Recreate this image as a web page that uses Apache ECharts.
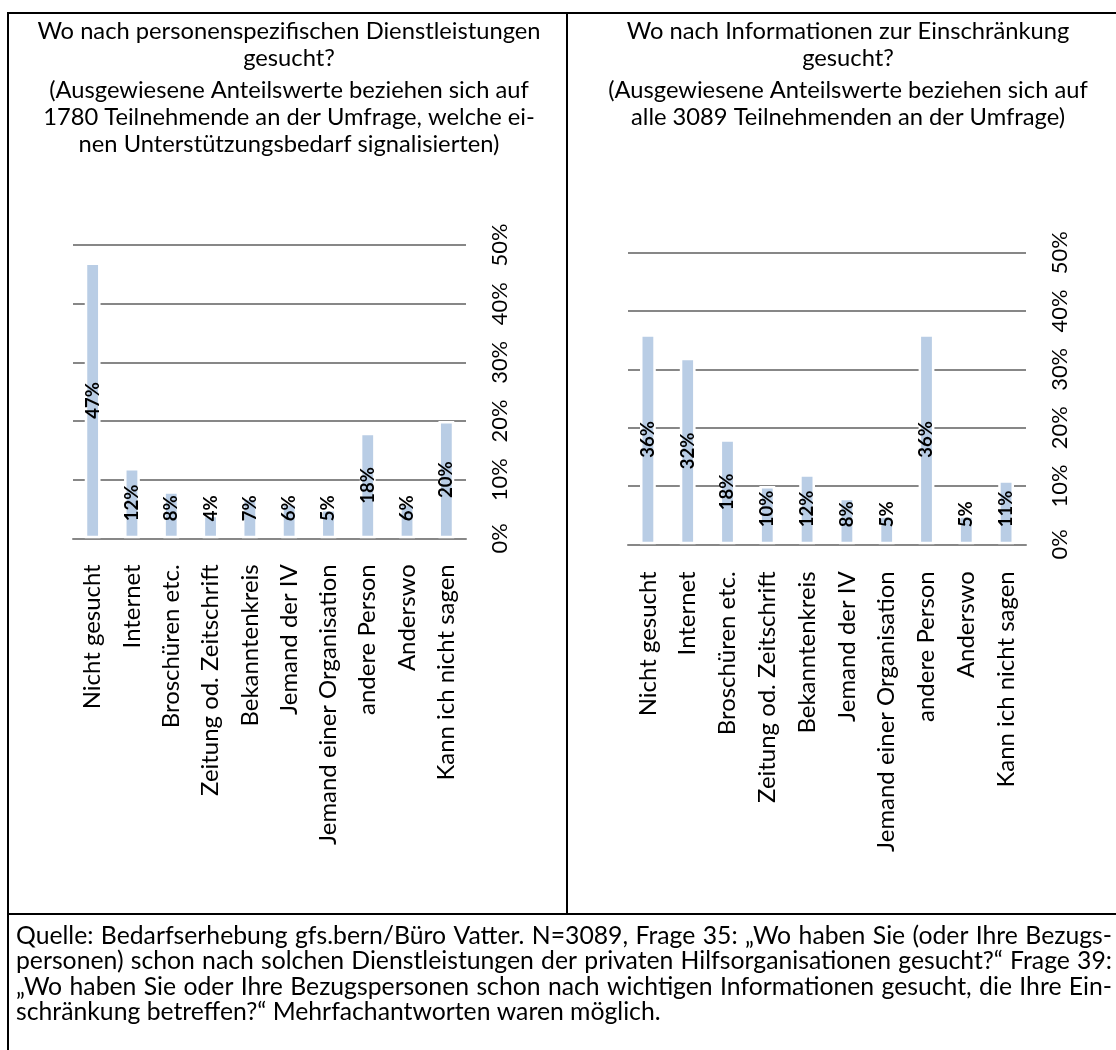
<!DOCTYPE html>
<html>
<head>
<meta charset="utf-8">
<script src="https://cdn.jsdelivr.net/npm/echarts@6/dist/echarts.min.js"></script>
<style>
  html, body { margin: 0; padding: 0; background: #fff; }
  #chart { width: 1116px; height: 1050px; }
</style>
</head>
<body>
<div id="chart"></div>
<script>
// Answer categories shared by both panels
const categories = [
  'Nicht gesucht', 'Internet', 'Broschüren etc.', 'Zeitung od. Zeitschrift',
  'Bekanntenkreis', 'Jemand der IV', 'Jemand einer Organisation',
  'andere Person', 'Anderswo', 'Kann ich nicht sagen'
];
// Shares in percent (Frage 35: Dienstleistungen, Frage 39: Informationen)
const dienstleistungenShare = [47, 12, 8, 4, 7, 6, 5, 18, 6, 20];
const informationenShare = [36, 32, 18, 10, 12, 8, 5, 36, 5, 11];
// Value axis ticks (percent)
const percentTicks = [0, 10, 20, 30, 40, 50];

const titleLeft = ['Wo nach personenspezifischen Dienstleistungen', 'gesucht?'];
const subtitleLeft = [
  '(Ausgewiesene Anteilswerte beziehen sich auf',
  '1780 Teilnehmende an der Umfrage, welche ei-',
  'nen Unterstützungsbedarf signalisierten)'
];
const titleRight = ['Wo nach Informationen zur Einschränkung', 'gesucht?'];
const subtitleRight = [
  '(Ausgewiesene Anteilswerte beziehen sich auf',
  'alle 3089 Teilnehmenden an der Umfrage)'
];
const footerLines = [
  'Quelle: Bedarfserhebung gfs.bern/Büro Vatter. N=3089, Frage 35: \u201EWo haben Sie (oder Ihre Bezugs-',
  'personen) schon nach solchen Dienstleistungen der privaten Hilfsorganisationen gesucht?\u201C Frage 39:',
  '\u201EWo haben Sie oder Ihre Bezugspersonen schon nach wichtigen Informationen gesucht, die Ihre Ein-',
  'schränkung betreffen?\u201C Mehrfachantworten waren möglich.'
];

// ---- text measuring helpers ----
const FONT = 'Lato';
const measureCtx = document.createElement('canvas').getContext('2d');
function textWidth(str, size, weight) {
  measureCtx.font = (weight || 'normal') + ' ' + size + 'px ' + FONT;
  return measureCtx.measureText(str).width;
}
function fitSize(str, target, weight) {
  return 100 * target / textWidth(str, 100, weight);
}

const axisLabelSize = fitSize('Nicht gesucht', 145);
const tickLabelSize = fitSize('50%', 43);
const barLabelSize = fitSize('47%', 36.7, 'bold');
const titleSize = 100 * 946 / (textWidth(titleLeft[0], 100) + textWidth(titleRight[0], 100));
const footerSize = 100 * 1088 / Math.max(
  textWidth(footerLines[0], 100), textWidth(footerLines[1], 100), textWidth(footerLines[2], 100));

// ---- page frame and texts ----
const BLACK = '#000';
const graphics = [];
function line(x1, y1, x2, y2) {
  graphics.push({ type: 'line', shape: { x1, y1, x2, y2 }, style: { stroke: BLACK, lineWidth: 2 }, silent: true });
}
function centeredText(str, x, y, size) {
  graphics.push({
    type: 'text', x, y, silent: true,
    style: { text: str, fontFamily: FONT, fontSize: size, fill: BLACK, align: 'center', verticalAlign: 'middle' }
  });
}
line(8, 13, 1116, 13);
line(8, 12, 8, 1050);
line(567, 13, 567, 914);
line(8, 914, 1116, 914);

const titleRows = [31, 58];
const subtitleRows = [90, 117, 144];
titleLeft.forEach((t, i) => centeredText(t, 289, titleRows[i], titleSize));
subtitleLeft.forEach((t, i) => centeredText(t, 289, subtitleRows[i], titleSize));
titleRight.forEach((t, i) => centeredText(t, 848, titleRows[i], titleSize));
subtitleRight.forEach((t, i) => centeredText(t, 848, subtitleRows[i], titleSize));

// justified footer paragraph (last line left aligned)
const footerLeft = 16, footerRight = 1112, footerTop = 936, footerStep = 25.3;
footerLines.forEach((ln, i) => {
  const y = footerTop + i * footerStep;
  const words = ln.split(' ');
  const widths = words.map(w => textWidth(w, footerSize));
  const total = widths.reduce((a, b) => a + b, 0);
  const isLast = i === footerLines.length - 1;
  const gap = isLast ? textWidth(' ', footerSize) : (footerRight - footerLeft - total) / (words.length - 1);
  let x = footerLeft;
  words.forEach((w, k) => {
    graphics.push({
      type: 'text', x, y, silent: true,
      style: { text: w, fontFamily: FONT, fontSize: footerSize, fill: BLACK, align: 'left', verticalAlign: 'middle' }
    });
    x += widths[k] + gap;
  });
});

// ---- charts ----
const GRID_GREY = '#878787';
const BAR_BLUE = '#B9CDE5';

function barData(values) {
  // short bars keep their label a fixed distance above the base line
  return values.map(v => (v < 13
    ? { value: v, label: { position: 'insideBottom', distance: 17, align: 'left', verticalAlign: 'middle' } }
    : { value: v }));
}

function xAxisFor(gridIndex, margin) {
  return {
    type: 'category', gridIndex, data: categories,
    axisLine: { lineStyle: { color: GRID_GREY, width: 2 } },
    axisTick: { show: false },
    axisLabel: {
      interval: 0, rotate: 90, margin, color: BLACK,
      fontFamily: FONT, fontSize: axisLabelSize
    }
  };
}
function yAxisFor(gridIndex) {
  return {
    type: 'value', gridIndex, position: 'right',
    min: percentTicks[0], max: percentTicks[percentTicks.length - 1],
    interval: percentTicks[1] - percentTicks[0],
    axisLine: { show: false }, axisTick: { show: false },
    splitLine: { lineStyle: { color: GRID_GREY, width: 2 } },
    axisLabel: {
      rotate: 90, margin: 34 - tickLabelSize / 2, color: BLACK,
      fontFamily: FONT, fontSize: tickLabelSize, formatter: '{value}%'
    }
  };
}
function barSeries(index, values) {
  return {
    type: 'bar', xAxisIndex: index, yAxisIndex: index,
    data: barData(values),
    barWidth: 15.8,
    itemStyle: { color: BAR_BLUE, borderColor: '#fff', borderWidth: 2.5 },
    label: {
      show: true, position: 'inside', rotate: 90,
      formatter: p => p.value + '%',
      fontFamily: FONT, fontWeight: 'bold', fontSize: barLabelSize, color: BLACK
    }
  };
}

const chart = echarts.init(document.getElementById('chart'), null, { renderer: 'canvas' });
chart.setOption({
  animation: false,
  backgroundColor: '#fff',
  grid: [
    { left: 73, right: 1116 - 466, top: 245, bottom: 1050 - 538.3 },
    { left: 628, right: 1116 - 1026, top: 252.7, bottom: 1050 - 544.3 }
  ],
  xAxis: [xAxisFor(0, 26), xAxisFor(1, 27)],
  yAxis: [yAxisFor(0), yAxisFor(1)],
  series: [barSeries(0, dienstleistungenShare), barSeries(1, informationenShare)],
  graphic: graphics
});
</script>
</body>
</html>
